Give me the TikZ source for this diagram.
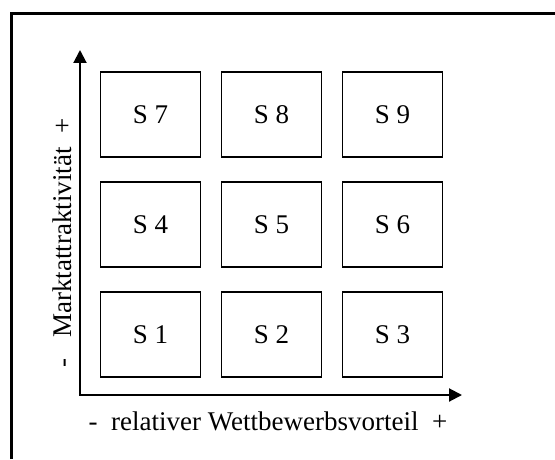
\documentclass[tikz,border=0pt]{standalone}
\usepackage{fontspec}
\setmainfont{Liberation Serif}
\usetikzlibrary{positioning,arrows.meta}

\begin{document}
\begin{tikzpicture}[x=0.5pt,y=-0.5pt,node distance=55pt and 60.5pt,on grid,
    field/.style={draw,line width=0.7pt,minimum width=50pt,minimum height=42.5pt,
      font=\fontsize{13.5}{16}\selectfont},
    axis/.style={line width=1pt,{Triangle[length=6.5pt,width=6.5pt]}-{Triangle[length=6.5pt,width=6.5pt]}},
    lbl/.style={font=\fontsize{13.5}{16}\selectfont}]
   \useasboundingbox (0,0) rectangle (555,459);
   \draw[line width=1.5pt] (11,459) -- (11,13.5) -- (555,13.5);
   % portfolio fields
   \node[field] (s1) at (150.5,334.5) {S 1};
   \node[field] (s2) [right=of s1] {S 2};
   \node[field] (s3) [right=of s2] {S 3};
   \node[field] (s4) [above=of s1] {S 4};
   \node[field] (s5) [right=of s4] {S 5};
   \node[field] (s6) [right=of s5] {S 6};
   \node[field] (s7) [above=of s4] {S 7};
   \node[field] (s8) [right=of s7] {S 8};
   \node[field] (s9) [right=of s8] {S 9};
   % axes
   \coordinate (o) at (80,395);
   \coordinate (ytip) at (80,50);
   \coordinate (xtip) at (462,395);
   \draw[axis] (ytip) -- (o) -- (xtip);
   \node[lbl] (xlabel) at (268,421) {-\ \ relativer Wettbewerbsvorteil\ \ +};
   \node[lbl,rotate=90] (ylabel) at (62,243) {-\ \ \ Marktattraktivität\ \ +};
\end{tikzpicture}
\end{document}
